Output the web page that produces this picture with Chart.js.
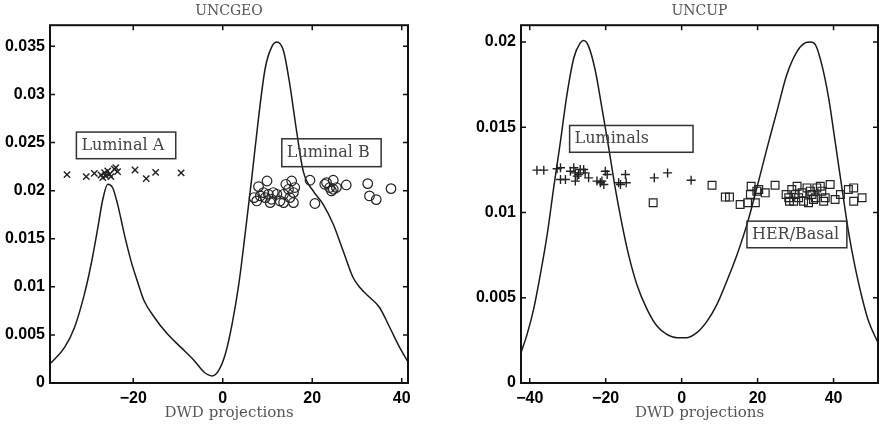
<!DOCTYPE html>
<html lang="en">
<head>
<meta charset="UTF-8" />
<title>DWD projections</title>
<script src="https://cdn.jsdelivr.net/npm/chart.js@4.4.1/dist/chart.umd.min.js"></script>
<style>
  body { margin: 0; background: #fff; }
  #wrap { position: relative; width: 888px; height: 429px; }
  canvas { position: absolute; top: 0; }
</style>
</head>
<body>
<div id="wrap">
  <canvas id="geo" width="444" height="429" style="left:0"></canvas>
  <canvas id="up" width="444" height="429" style="left:444px"></canvas>
</div>
<script>
// ---- UNCGEO panel ----
const geoCurveX = [-38.4, -35.3, -33.1, -30.9, -29.4, -27.9, -26.8, -25.7, -24.6, -23.5, -22.0, -20.5, -19.0, -17.6, -15.3, -12.4, -9.4, -6.4, -4.2, -2.4, -0.9, 0.6, 2.1, 3.6, 5.0, 6.5, 8.0, 9.5, 11.0, 12.1, 13.6, 15.0, 16.5, 18.0, 20.2, 22.4, 24.7, 26.9, 29.1, 30.6, 32.8, 35.0, 37.3, 39.5, 41.4];
const geoCurveY = [0.00207, 0.00373, 0.0058, 0.00926, 0.01237, 0.01617, 0.0191, 0.02066, 0.0203, 0.0186, 0.01548, 0.0127, 0.01047, 0.00857, 0.00684, 0.00511, 0.00373, 0.00235, 0.00114, 0.00073, 0.00131, 0.00304, 0.00615, 0.0103, 0.01548, 0.02135, 0.02757, 0.03275, 0.035, 0.03545, 0.0345, 0.031, 0.0262, 0.022, 0.01997, 0.0186, 0.01651, 0.01375, 0.01099, 0.00995, 0.00891, 0.00788, 0.0058, 0.00373, 0.0022];
const lumAX = [-34.8, -30.5, -28.7, -27.2, -26.8, -26.4, -26.1, -25.7, -25.3, -25.0, -24.2, -23.9, -23.5, -19.6, -17.1, -15.0, -9.3];
const lumAY = [0.02166, 0.02146, 0.0218, 0.02163, 0.02135, 0.02187, 0.02152, 0.02204, 0.0217, 0.02146, 0.02222, 0.02239, 0.02197, 0.02215, 0.02125, 0.0219, 0.02184];
const lumBX = [7.0, 8.0, 9.9, 9.1, 9.5, 10.2, 10.9, 11.3, 12.1, 12.8, 13.6, 14.1, 14.7, 15.4, 15.8, 16.1, 15.8, 19.5, 20.6, 22.8, 23.2, 23.9, 24.7, 24.7, 25.4, 27.6, 32.4, 32.8, 34.3, 37.6, 7.6, 10.6, 8.4, 13.6, 15.0, 24.3];
const lumBY = [0.01928, 0.02042, 0.021, 0.0198, 0.01928, 0.01962, 0.0191, 0.0198, 0.01962, 0.01893, 0.01876, 0.02066, 0.02014, 0.021, 0.01876, 0.02032, 0.0198, 0.02108, 0.01866, 0.02066, 0.02083, 0.02032, 0.02108, 0.02014, 0.02032, 0.02059, 0.02073, 0.01945, 0.01907, 0.02021, 0.01893, 0.01876, 0.01945, 0.01962, 0.01928, 0.01997];
const geoXTicks = [-20, 0, 20, 40];
const geoYTicks = [0, 0.005, 0.01, 0.015, 0.02, 0.025, 0.03, 0.035];

// ---- UNCUP panel ----
const upCurveX = [-42.3, -40.7, -38.9, -37.2, -35.4, -33.7, -31.9, -30.2, -28.4, -26.7, -25.8, -24.5, -22.7, -21.0, -19.2, -17.5, -15.7, -14.0, -11.8, -9.1, -6.5, -3.9, -1.2, 1.4, 4.0, 6.7, 9.3, 11.9, 14.6, 17.2, 19.8, 22.5, 25.1, 27.7, 30.4, 32.5, 33.9, 35.2, 36.9, 38.7, 40.4, 42.2, 43.9, 45.7, 47.5, 49.2, 51.7];
const upCurveY = [0.00178, 0.00285, 0.00441, 0.00637, 0.00871, 0.01144, 0.01418, 0.01691, 0.01906, 0.01994, 0.02008, 0.01974, 0.01828, 0.01613, 0.01379, 0.01144, 0.0093, 0.00754, 0.00578, 0.00432, 0.00334, 0.00285, 0.00266, 0.00266, 0.00295, 0.00363, 0.00461, 0.00598, 0.00754, 0.0093, 0.01144, 0.01379, 0.01594, 0.01809, 0.01945, 0.01994, 0.02, 0.01984, 0.01867, 0.01672, 0.01418, 0.01144, 0.00891, 0.00676, 0.005, 0.00363, 0.00236];
const lumsX = [-38.1, -36.3, -32.8, -31.9, -31.9, -30.6, -29.3, -28.4, -28.0, -28.0, -27.5, -27.1, -26.7, -25.8, -25.4, -24.5, -22.3, -21.4, -21.0, -20.5, -20.1, -19.6, -16.6, -16.1, -14.8, -14.6, -7.2, -3.7, 2.5];
const lumsY = [0.01248, 0.01248, 0.01256, 0.01262, 0.01193, 0.01193, 0.01242, 0.01262, 0.01232, 0.01184, 0.01213, 0.01223, 0.01252, 0.01252, 0.01232, 0.01203, 0.01184, 0.01174, 0.01184, 0.01164, 0.01242, 0.01223, 0.01174, 0.01164, 0.01223, 0.01174, 0.01203, 0.01232, 0.01189];
const herX = [-7.5, 8.0, 11.5, 12.6, 15.4, 17.4, 18.3, 18.1, 19.4, 19.8, 20.3, 22.0, 24.6, 27.5, 28.2, 29.0, 29.5, 29.9, 30.4, 30.8, 31.7, 32.1, 33.0, 33.4, 33.9, 34.3, 35.2, 35.6, 36.5, 36.9, 37.4, 37.8, 39.1, 40.4, 41.8, 43.9, 45.3, 47.5, 45.3, 28.4, 34.7];
const herY = [0.01057, 0.0116, 0.0109, 0.0109, 0.01047, 0.01057, 0.01154, 0.01105, 0.01057, 0.01125, 0.01135, 0.01115, 0.0116, 0.01105, 0.01086, 0.01135, 0.01066, 0.01105, 0.01154, 0.01086, 0.01115, 0.01066, 0.01144, 0.01057, 0.01125, 0.01105, 0.01086, 0.01144, 0.01154, 0.01125, 0.01066, 0.01086, 0.01164, 0.01076, 0.01105, 0.01135, 0.01066, 0.01086, 0.01144, 0.01066, 0.01076];
const upXTicks = [-40, -20, 0, 20, 40];
const upYTicks = [0, 0.005, 0.01, 0.015, 0.02];

const zip = (xs, ys) => xs.map((x, i) => ({ x: x, y: ys[i] }));
const minus = v => (v < 0 ? '\u2212' + Math.abs(v) : String(v));

// frame with inward ticks on all sides + label boxes
const framePlugin = {
  id: 'frame',
  afterDatasetsDraw(chart, args, opts) {
    const { ctx, chartArea: a, scales: { x, y } } = chart;
    ctx.save();
    ctx.strokeStyle = '#111';
    ctx.lineWidth = 1.5;
    ctx.beginPath();
    x.ticks.forEach(t => {
      const px = x.getPixelForValue(t.value);
      ctx.moveTo(px, a.bottom); ctx.lineTo(px, a.bottom - 5);
      ctx.moveTo(px, a.top); ctx.lineTo(px, a.top + 5);
    });
    y.ticks.forEach(t => {
      const py = y.getPixelForValue(t.value);
      ctx.moveTo(a.left, py); ctx.lineTo(a.left + 5, py);
      ctx.moveTo(a.right, py); ctx.lineTo(a.right - 5, py);
    });
    ctx.stroke();
    ctx.lineWidth = 2;
    ctx.strokeRect(a.left, a.top, a.width, a.height);

    ctx.font = '16px "DejaVu Serif"';
    ctx.textBaseline = 'middle';
    ctx.textAlign = 'left';
    (opts.boxes || []).forEach(b => {
      const x0 = x.getPixelForValue(b.x0), x1 = x.getPixelForValue(b.x1);
      const y0 = y.getPixelForValue(b.y0), y1 = y.getPixelForValue(b.y1);
      ctx.strokeStyle = '#333';
      ctx.lineWidth = 1.5;
      ctx.strokeRect(x0, y0, x1 - x0, y1 - y0);
      ctx.fillStyle = '#444';
      ctx.fillText(b.text, x0 + 5, (y0 + y1) / 2);
    });
    ctx.restore();
  }
};

function makePanel(id, cfg) {
  new Chart(document.getElementById(id), {
    type: 'scatter',
    data: {
      datasets: [
        {
          data: zip(cfg.curveX, cfg.curveY),
          showLine: true,
          borderColor: '#1a1a1a',
          borderWidth: 1.5,
          pointRadius: 0,
          cubicInterpolationMode: 'monotone'
        },
        {
          data: zip(cfg.aX, cfg.aY),
          pointStyle: cfg.aStyle,
          pointRadius: cfg.aRadius,
          borderColor: '#222',
          borderWidth: 1.4,
          backgroundColor: 'rgba(0,0,0,0)'
        },
        {
          data: zip(cfg.bX, cfg.bY),
          pointStyle: cfg.bStyle,
          pointRadius: cfg.bRadius,
          borderColor: '#222',
          borderWidth: 1.2,
          backgroundColor: 'rgba(0,0,0,0)'
        }
      ]
    },
    options: {
      responsive: false,
      animation: false,
      layout: { padding: { left: 0, right: cfg.padRight, top: 0, bottom: 0 } },
      plugins: {
        legend: { display: false },
        tooltip: { enabled: false },
        title: {
          display: true,
          text: cfg.title,
          fullSize: false,
          color: '#555',
          font: { family: 'DejaVu Serif', size: 14, weight: 'normal' },
          padding: { top: 3, bottom: 5.4 }
        },
        frame: { boxes: cfg.boxes }
      },
      scales: {
        x: {
          type: 'linear',
          min: cfg.xMin,
          max: cfg.xMax,
          grid: { display: false, drawTicks: false },
          border: { display: false },
          afterBuildTicks: s => { s.ticks = cfg.xTicks.map(v => ({ value: v })); },
          ticks: {
            padding: 6,
            color: '#000',
            font: { family: 'Liberation Sans', weight: 'bold', size: 16 },
            callback: v => minus(v)
          },
          title: {
            display: true,
            text: 'DWD projections',
            color: '#555',
            font: { family: 'DejaVu Serif', size: 15 },
            padding: { top: 0, bottom: 7 }
          },
          afterFit: s => { s.height = 46; }
        },
        y: {
          type: 'linear',
          min: 0,
          max: cfg.yMax,
          grid: { display: false, drawTicks: false },
          border: { display: false },
          afterBuildTicks: s => { s.ticks = cfg.yTicks.map(v => ({ value: v })); },
          ticks: {
            padding: 5,
            color: '#000',
            font: { family: 'Liberation Sans', weight: 'bold', size: 16 },
            callback: v => String(Number(v.toFixed(3)))
          },
          afterFit: s => { s.width = cfg.yWidth; }
        }
      }
    },
    plugins: [framePlugin]
  });
}

makePanel('geo', {
  title: 'UNCGEO',
  curveX: geoCurveX, curveY: geoCurveY,
  aX: lumAX, aY: lumAY, aStyle: 'crossRot', aRadius: 4.5,
  bX: lumBX, bY: lumBY, bStyle: 'circle', bRadius: 4.8,
  xMin: -38.6, xMax: 41.4, yMax: 0.0372,
  xTicks: geoXTicks, yTicks: geoYTicks,
  yWidth: 50, padRight: 36,
  boxes: [
    { text: 'Luminal A', x0: -32.7, x1: -10.5, y0: 0.02609, y1: 0.02332 },
    { text: 'Luminal B', x0: 13.2, x1: 35.4, y0: 0.02539, y1: 0.02249 }
  ]
});

makePanel('up', {
  title: 'UNCUP',
  curveX: upCurveX, curveY: upCurveY,
  aX: lumsX, aY: lumsY, aStyle: 'cross', aRadius: 4.5,
  bX: herX, bY: herY, bStyle: 'rect', bRadius: 5.5,
  xMin: -42.3, xMax: 51.7, yMax: 0.02098,
  xTicks: upXTicks, yTicks: upYTicks,
  yWidth: 77, padRight: 10,
  boxes: [
    { text: 'Luminals', x0: -29.5, x1: 3.0, y0: 0.0151, y1: 0.01353 },
    { text: 'HER/Basal', x0: 17.2, x1: 43.5, y0: 0.00949, y1: 0.00793 }
  ]
});
</script>
</body>
</html>
